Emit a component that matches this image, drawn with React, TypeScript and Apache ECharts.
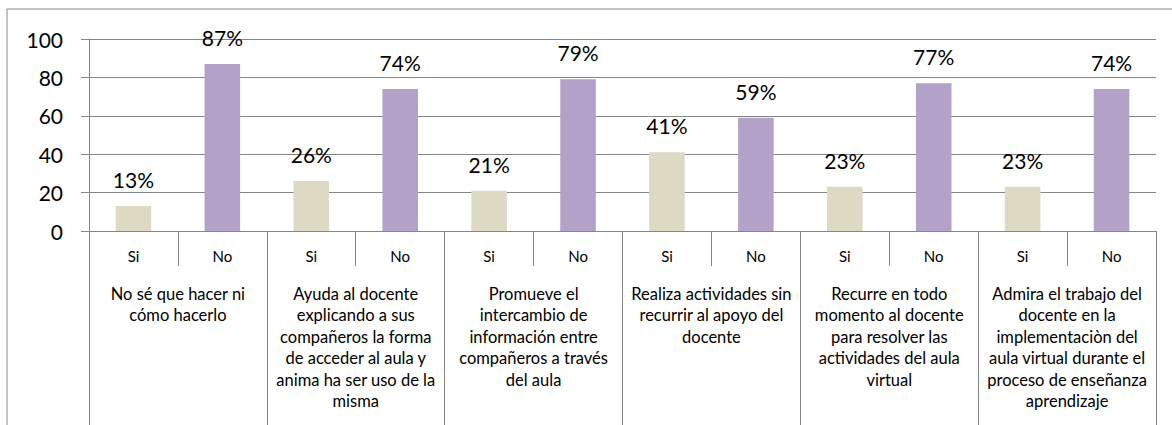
import React, { useEffect, useRef } from "react";
import * as echarts from "echarts";

const groups = [
  "No sé que hacer ni\ncómo hacerlo",
  "Ayuda al docente\nexplicando a sus\ncompañeros la forma\nde acceder al aula y\nanima ha ser uso de la\nmisma",
  "Promueve el\nintercambio de\ninformación entre\ncompañeros a través\ndel aula",
  "Realiza actividades sin\nrecurrir al apoyo del\ndocente",
  "Recurre en todo\nmomento al docente\npara resolver las\nactividades del aula\nvirtual",
  "Admira el trabajo del\ndocente en la\nimplementaciòn del\naula virtual durante el\nproceso de enseñanza\naprendizaje",
];
const answers = ["Si", "No"];
const siValues = [13, 26, 21, 41, 23, 23];
const noValues = [87, 74, 79, 59, 77, 74];
const yTicks = [0, 20, 40, 60, 80, 100];

const SI_COLOR = "#DDD9C3";
const NO_COLOR = "#B2A2C7";
const GRAY = "#868686";
const FONT = "Lato, 'Open Sans', sans-serif";

export default function App() {
  const ref = useRef<HTMLDivElement>(null);
  useEffect(() => {
    if (!ref.current) return;
    const chart = echarts.init(ref.current, undefined, { renderer: "svg" });
    const subCats: string[] = [];
    const data: any[] = [];
    groups.forEach((_, i) => {
      subCats.push(answers[0], answers[1]);
      data.push({ value: siValues[i], itemStyle: { color: SI_COLOR } });
      data.push({ value: noValues[i], itemStyle: { color: NO_COLOR } });
    });
    chart.setOption({
      animation: false,
      textStyle: { fontFamily: FONT },
      graphic: [
        {
          type: "rect",
          shape: { x: 7, y: 9, width: 1300, height: 600 },
          style: { fill: "none", stroke: GRAY, lineWidth: 1 },
          z: -1,
        },
      ],
      grid: { left: 89, right: 16, top: 39, bottom: 194, containLabel: false },
      xAxis: [
        {
          type: "category",
          data: subCats,
          position: "bottom",
          axisLine: { show: true, lineStyle: { color: GRAY, width: 1 } },
          axisTick: { show: true, interval: 0, length: 35, lineStyle: { color: GRAY } },
          axisLabel: { interval: 0, fontSize: 15, color: "#000", margin: 17, fontFamily: FONT },
          splitLine: { show: false },
        },
        {
          type: "category",
          data: groups,
          position: "bottom",
          axisLine: { show: false },
          axisTick: { show: true, interval: 0, length: 200, lineStyle: { color: GRAY } },
          axisLabel: {
            interval: 0,
            fontSize: 16.5,
            lineHeight: 21.5,
            color: "#000",
            margin: 52,
            align: "center",
            fontFamily: FONT,
          },
          splitLine: { show: false },
        },
      ],
      yAxis: {
        type: "value",
        min: yTicks[0],
        max: yTicks[yTicks.length - 1],
        interval: 20,
        axisLine: { show: true, lineStyle: { color: GRAY } },
        axisTick: { show: true, length: 8, lineStyle: { color: GRAY } },
        axisLabel: { fontSize: 21, color: "#000", margin: 26, fontFamily: FONT },
        splitLine: { show: true, lineStyle: { color: GRAY, width: 1 } },
      },
      series: [
        {
          type: "bar",
          xAxisIndex: 0,
          data,
          barWidth: "40%",
          label: {
            show: true,
            position: "top",
            distance: 16,
            formatter: "{c}%",
            fontSize: 21,
            color: "#000",
            fontFamily: FONT,
          },
        },
      ],
    });
    return () => chart.dispose();
  }, []);
  return (
    <div
      ref={ref}
      style={{ position: "fixed", left: 0, top: 0, width: 1172, height: 425, background: "#fff" }}
    />
  );
}
